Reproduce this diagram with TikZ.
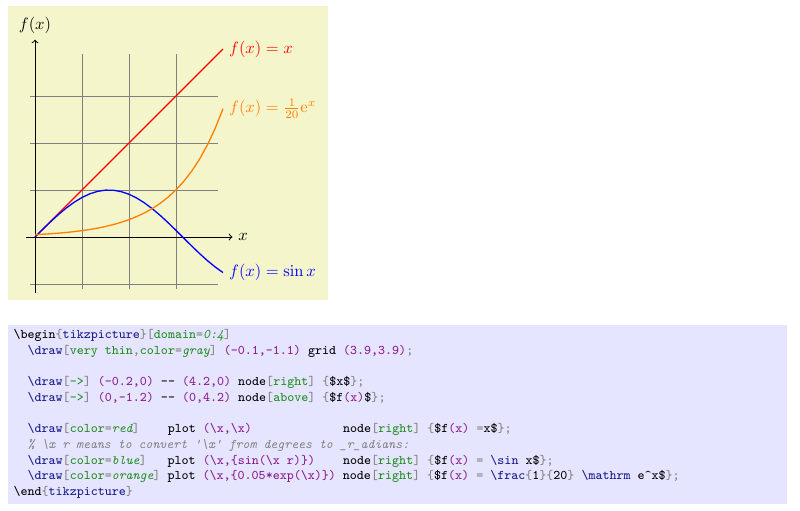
\documentclass[tikz,border=0pt]{standalone}
\usetikzlibrary{positioning}

\definecolor{plotbg}{rgb}{0.96,0.96,0.8}
\definecolor{codebg}{rgb}{0.9,0.9,1}
\definecolor{codeblue}{rgb}{0.1,0.1,0.55}
\definecolor{codegreen}{rgb}{0.13,0.55,0.13}
\definecolor{codepurple}{rgb}{0.55,0.1,0.55}
\definecolor{codegray}{rgb}{0.5,0.5,0.5}

\newcommand{\tkbl}[1]{\textcolor{codeblue}{#1}}
\newcommand{\tkcmd}[1]{\tkbl{\textbackslash #1}}
\newcommand{\tkkey}[1]{\textcolor{codegreen}{#1}}
\newcommand{\tkval}[1]{\textcolor{codegreen}{\itshape #1}}
\newcommand{\tkco}[1]{\textcolor{codepurple}{#1}}
\newcommand{\tkgr}[1]{\textcolor{codegray}{#1}}
\newcommand{\tkcom}[1]{\textcolor{codegray}{\itshape #1}}
\newcommand{\tkind}{\hphantom{xx}}

\begin{document}
\begin{tikzpicture}[domain=0:4,
  gridline/.style={line width=0.6pt,color=gray},
  axis/.style={->,line width=0.6pt},
  curve/.style={line width=0.8pt},
  codeline/.style={anchor=base west,inner sep=0pt,font=\footnotesize\ttfamily\frenchspacing}]
  \useasboundingbox (-0.745,-5.809) rectangle (16.277,5.043);
  % backgrounds
  \fill[plotbg] (-0.574,-1.340) rectangle (6.234,4.915);
  \fill[codebg] (-0.574,-5.681) rectangle (16.0,-1.872);

  % the plot
  \draw[gridline] (-0.1,-1.1) grid (3.9,3.9);
  \draw[axis] (-0.2,0) -- (4.2,0) node[right] (xlabel) {$x$};
  \draw[axis] (0,-1.2) -- (0,4.2) node[above] (ylabel) {$f(x)$};
  \draw[curve,color=red] plot (\x,\x) node[right] (redlabel) {$f(x) =x$};
  \draw[curve,color=blue] plot (\x,{sin(\x r)}) node[right] (bluelabel) {$f(x) = \sin x$};
  \draw[curve,color=orange] plot (\x,{0.05*exp(\x)}) node[right] (orangelabel) {$f(x) = \frac{1}{20} \mathrm e^x$};

  % the code listing
  \node[codeline] (l1) at (-0.462,-2.160)
    {\textbackslash begin\tkgr{\{}\tkbl{tikzpicture}\tkgr{\}[}\tkkey{domain}\tkgr{=}\tkval{0:4}\tkgr{]}};
  \node[below=9.5pt of l1.base west,codeline] (l2)
    {\tkind\tkcmd{draw}\tkgr{[}\tkkey{very thin}\tkgr{,}\tkkey{color}\tkgr{=}\tkval{gray}\tkgr{]} \tkco{(-0.1,-1.1)} grid \tkco{(3.9,3.9)}\tkgr{;}};
  \node[below=19pt of l2.base west,codeline] (l4)
    {\tkind\tkcmd{draw}\tkgr{[}\tkkey{-{}>}\tkgr{]} \tkco{(-0.2,0)} -{}- \tkco{(4.2,0)} node\tkgr{[}\tkkey{right}\tkgr{]} \tkgr{\{}\$x\$\tkgr{\};}};
  \node[below=9.5pt of l4.base west,codeline] (l5)
    {\tkind\tkcmd{draw}\tkgr{[}\tkkey{-{}>}\tkgr{]} \tkco{(0,-1.2)} -{}- \tkco{(0,4.2)} node\tkgr{[}\tkkey{above}\tkgr{]} \tkgr{\{}\$f\tkco{(x)}\$\tkgr{\};}};
  \node[below=19pt of l5.base west,codeline] (l7)
    {\tkind\tkcmd{draw}\tkgr{[}\tkkey{color}\tkgr{=}\tkval{red}\tkgr{]}~~~~plot \tkco{(\textbackslash x,\textbackslash x)}~~~~~~~~~~~~~node\tkgr{[}\tkkey{right}\tkgr{]} \tkgr{\{}\$f\tkco{(x)} \tkgr{=}x\$\tkgr{\};}};
  \node[below=9.5pt of l7.base west,codeline] (l8)
    {\tkind\tkcom{\% \textbackslash x r means to convert \textquotesingle\textbackslash x\textquotesingle{} from degrees to \_r\_adians:}};
  \node[below=9.5pt of l8.base west,codeline] (l9)
    {\tkind\tkcmd{draw}\tkgr{[}\tkkey{color}\tkgr{=}\tkval{blue}\tkgr{]}~~~plot \tkco{(\textbackslash x,\{sin(\textbackslash x r)\})}~~~~node\tkgr{[}\tkkey{right}\tkgr{]} \tkgr{\{}\$f\tkco{(x)} \tkgr{=} \tkcmd{sin} x\$\tkgr{\};}};
  \node[below=9.5pt of l9.base west,codeline] (l10)
    {\tkind\tkcmd{draw}\tkgr{[}\tkkey{color}\tkgr{=}\tkval{orange}\tkgr{]} plot \tkco{(\textbackslash x,\{0.05*exp(\textbackslash x)\})} node\tkgr{[}\tkkey{right}\tkgr{]} \tkgr{\{}\$f\tkco{(x)} \tkgr{=} \tkcmd{frac}\tkgr{\{}1\tkgr{\}\{}20\tkgr{\}} \tkcmd{mathrm} e\textasciicircum x\$\tkgr{\};}};
  \node[below=9.5pt of l10.base west,codeline] (l11)
    {\textbackslash end\tkgr{\{}\tkbl{tikzpicture}\tkgr{\}}};
\end{tikzpicture}
\end{document}
